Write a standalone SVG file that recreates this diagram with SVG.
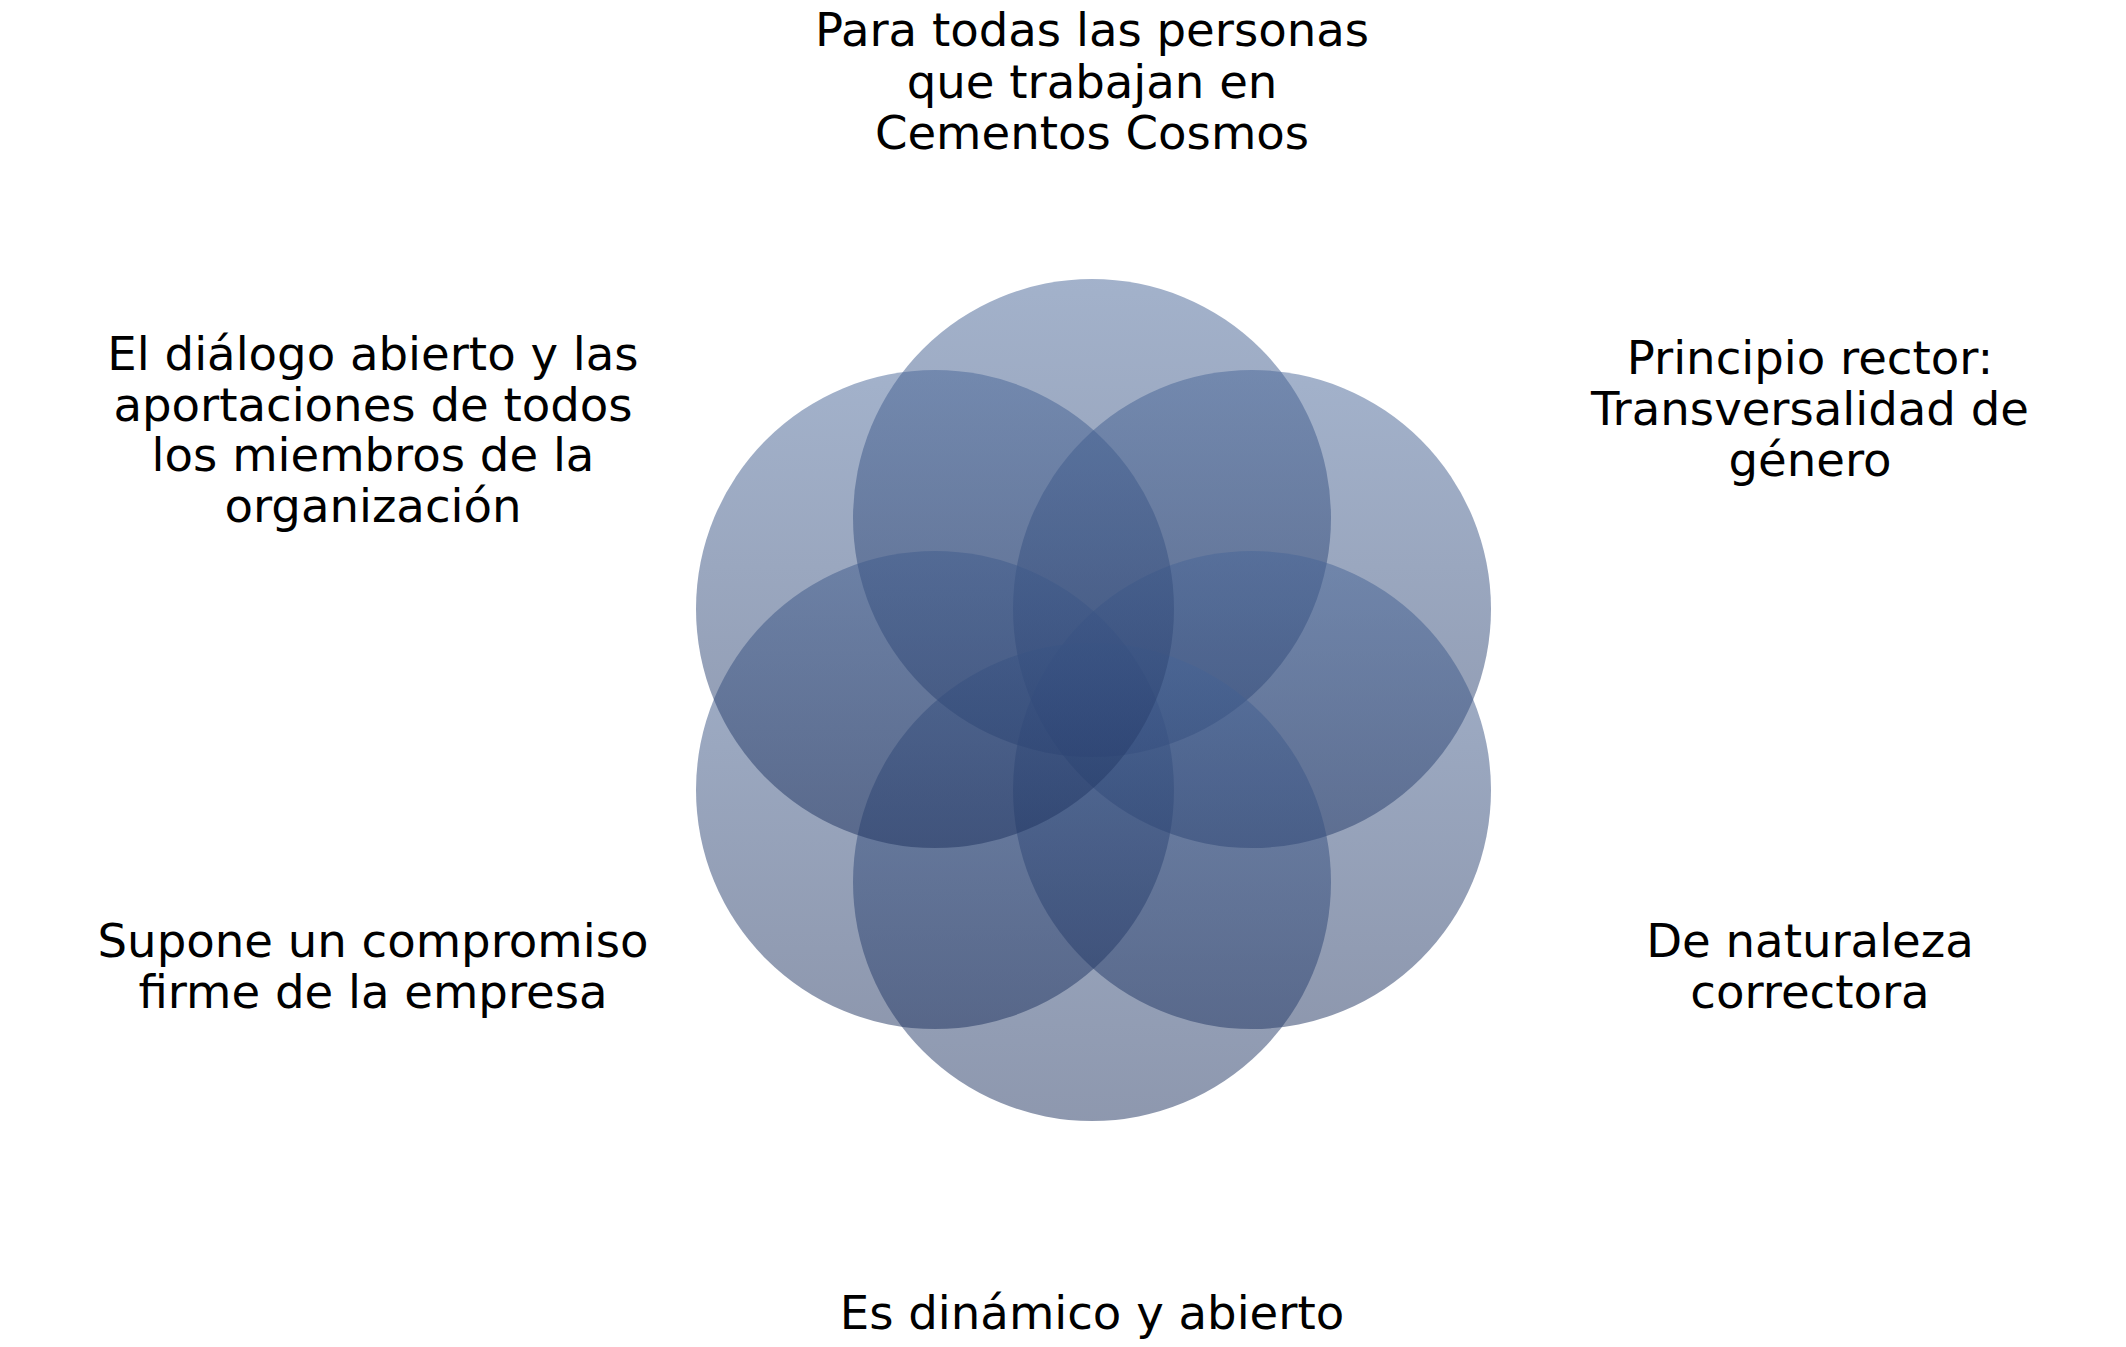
<svg xmlns="http://www.w3.org/2000/svg" width="2126" height="1347" viewBox="0 0 2126 1347">
<defs>
<linearGradient id="g" x1="0" y1="0" x2="0" y2="1">
<stop offset="0" stop-color="#476597"/>
<stop offset="1" stop-color="#1d315e"/>
</linearGradient>
<style>
.c{fill:url(#g);fill-opacity:0.5}
.t{font-family:"DejaVu Sans",Verdana,sans-serif;font-size:46.6px;fill:#000;text-anchor:middle}
</style>
</defs>
<rect width="2126" height="1347" fill="#fff"/>
<g id="circles">
<g id="c-top"><circle class="c" cx="1092" cy="518" r="239"/></g>
<g id="c-ur"><circle class="c" cx="1252" cy="609" r="239"/></g>
<g id="c-lr"><circle class="c" cx="1252" cy="790" r="239"/></g>
<g id="c-bottom"><circle class="c" cx="1092" cy="882" r="239"/></g>
<g id="c-ll"><circle class="c" cx="935" cy="790" r="239"/></g>
<g id="c-ul"><circle class="c" cx="935" cy="609" r="239"/></g>
</g>
<g id="connectors"/>
<g id="label-top"><text class="t"><tspan x="1092" y="46">Para todas las personas</tspan><tspan x="1092" y="97.5">que trabajan en</tspan><tspan x="1092" y="149">Cementos Cosmos</tspan></text></g>
<g id="label-ur"><text class="t"><tspan x="1810" y="374">Principio rector:</tspan><tspan x="1810" y="425">Transversalidad de</tspan><tspan x="1810" y="476">género</tspan></text></g>
<g id="label-lr"><text class="t"><tspan x="1810" y="957">De naturaleza</tspan><tspan x="1810" y="1008">correctora</tspan></text></g>
<g id="label-bottom"><text class="t" x="1092" y="1329">Es dinámico y abierto</text></g>
<g id="label-ll"><text class="t"><tspan x="373" y="957">Supone un compromiso</tspan><tspan x="373" y="1008">firme de la empresa</tspan></text></g>
<g id="label-ul"><text class="t"><tspan x="373" y="370">El diálogo abierto y las</tspan><tspan x="373" y="421">aportaciones de todos</tspan><tspan x="373" y="471">los miembros de la</tspan><tspan x="373" y="522">organización</tspan></text></g>
</svg>
